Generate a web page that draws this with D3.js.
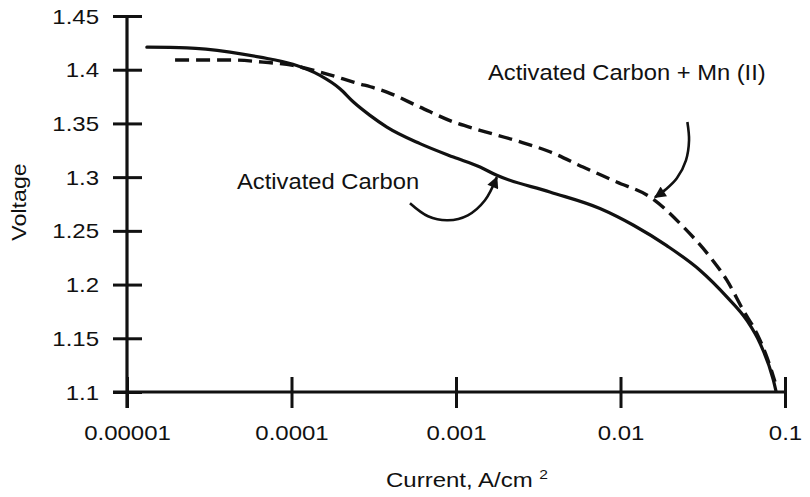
<!DOCTYPE html>
<html>
<head>
<meta charset="utf-8">
<script src="https://cdn.jsdelivr.net/npm/d3@7/dist/d3.min.js"></script>
<style>
  html, body { margin: 0; padding: 0; background: #fff; }
  svg text { font-family: "Liberation Sans", Arial, Helvetica, sans-serif; fill: #111; }
</style>
</head>
<body>
<svg id="chart" width="810" height="497"></svg>
<script>
// ---- data ----
const xTickValues = [0.00001, 0.0001, 0.001, 0.01, 0.1];
const xTickLabels = ["0.00001", "0.0001", "0.001", "0.01", "0.1"];
const yTickValues = [1.1, 1.15, 1.2, 1.25, 1.3, 1.35, 1.4, 1.45];
const yTickLabels = ["1.1", "1.15", "1.2", "1.25", "1.3", "1.35", "1.4", "1.45"];

const carbonCurrent = [1.32e-5, 2.31e-5, 4.23e-5, 6.43e-5, 1.02e-4, 1.49e-4, 1.97e-4, 2.38e-4, 3.0e-4, 3.8e-4, 6.04e-4, 9.64e-4, 1.4e-3, 1.77e-3, 3.72e-3, 7.5e-3, 1.2e-2, 1.91e-2, 3.04e-2, 4.43e-2, 5.85e-2, 7.05e-2, 8.49e-2, 8.81e-2];
const carbonVoltage = [1.421, 1.4204, 1.4164, 1.4117, 1.405, 1.3947, 1.3823, 1.3699, 1.3575, 1.3466, 1.3312, 1.3187, 1.3094, 1.3017, 1.2862, 1.2708, 1.2552, 1.2362, 1.2134, 1.1886, 1.1669, 1.1453, 1.1112, 1.1009];

const mnCurrent = [1.96e-5, 4.23e-5, 6.71e-5, 1.02e-4, 1.49e-4, 2.38e-4, 3.8e-4, 6.04e-4, 9.6e-4, 1.4e-3, 2.34e-3, 3.72e-3, 5.92e-3, 9.48e-3, 1.51e-2, 2.41e-2, 3.5e-2, 4.43e-2, 5.57e-2, 6.73e-2, 7.75e-2, 8.69e-2];
const mnVoltage = [1.409, 1.4091, 1.4071, 1.404, 1.3978, 1.3885, 1.3792, 1.3652, 1.3515, 1.3436, 1.3338, 1.3236, 1.3094, 1.2955, 1.2816, 1.2537, 1.2258, 1.2041, 1.1762, 1.1546, 1.1328, 1.1096];

// annotation arrows (in data units)
const arrowCarbonCurrent = [5.25e-4, 6.76e-4, 8.93e-4, 1.18e-3, 1.50e-3, 1.77e-3];
const arrowCarbonVoltage = [1.2757, 1.2636, 1.2599, 1.2645, 1.2785, 1.2999];
const arrowMnCurrent = [2.55e-2, 2.61e-2, 2.50e-2, 2.20e-2, 1.89e-2, 1.62e-2];
const arrowMnVoltage = [1.3513, 1.3343, 1.3157, 1.2989, 1.2887, 1.2813];

const labelCarbon = "Activated Carbon";
const labelMn = "Activated Carbon + Mn (II)";
const xTitle = "Current, A/cm";
const xTitleSup = "2";
const yTitle = "Voltage";

// ---- layout ----
const svg = d3.select("#chart");
const x = d3.scaleLog().domain([1e-5, 0.1]).range([127, 785]);
const y = d3.scaleLinear().domain([1.1, 1.45]).range([392, 16]);
const ink = "#111";

// arrow marker
svg.append("defs").append("marker")
  .attr("id", "ah").attr("viewBox", "0 0 10 10")
  .attr("refX", 9).attr("refY", 5)
  .attr("markerWidth", 5).attr("markerHeight", 4.5)
  .attr("markerUnits", "strokeWidth")
  .attr("orient", "auto")
  .append("path").attr("d", "M0,0 L10,5 L0,10 z").attr("fill", ink);

// x axis
const xAxis = d3.axisBottom(x).tickValues(xTickValues)
  .tickFormat((d, i) => xTickLabels[i]).tickSize(0);
const gx = svg.append("g").attr("transform", `translate(0,${y(1.1)})`).call(xAxis);
gx.select(".domain").remove();
gx.selectAll(".tick line").attr("y1", -15).attr("y2", 16)
  .attr("stroke", ink).attr("stroke-width", 3);
gx.selectAll(".tick text").attr("y", 48).attr("dy", 0)
  .attr("font-size", 20).attr("transform", "scale(1.2,1)").attr("fill", ink);

// y axis
const yAxis = d3.axisLeft(y).tickValues(yTickValues)
  .tickFormat((d, i) => yTickLabels[i]).tickSize(0);
const gy = svg.append("g").attr("transform", `translate(${x(1e-5)},0)`).call(yAxis);
gy.select(".domain").remove();
gy.selectAll(".tick line").attr("x1", -14).attr("x2", 15)
  .attr("stroke", ink).attr("stroke-width", 3);
gy.selectAll(".tick text").attr("x", -28 / 1.2).attr("dy", "0.35em")
  .attr("font-size", 20).attr("transform", "scale(1.2,1)").attr("fill", ink);

// axis lines
svg.append("line")
  .attr("x1", x.range()[0] - 14).attr("x2", x.range()[1] + 2)
  .attr("y1", y(1.1)).attr("y2", y(1.1))
  .attr("stroke", ink).attr("stroke-width", 3.2);
svg.append("line")
  .attr("x1", x(1e-5)).attr("x2", x(1e-5))
  .attr("y1", y.range()[1]).attr("y2", y.range()[0] + 16)
  .attr("stroke", ink).attr("stroke-width", 3.2);

// curves
const curveLine = d3.line().x(d => x(d[0])).y(d => y(d[1])).curve(d3.curveMonotoneX);
svg.append("path")
  .datum(carbonCurrent.map((c, i) => [c, carbonVoltage[i]]))
  .attr("d", curveLine).attr("fill", "none").attr("stroke", ink)
  .attr("stroke-width", 3.2).attr("stroke-linecap", "round");
svg.append("path")
  .datum(mnCurrent.map((c, i) => [c, mnVoltage[i]]))
  .attr("d", curveLine).attr("fill", "none").attr("stroke", ink)
  .attr("stroke-width", 3.4).attr("stroke-dasharray", "14,7");

// annotation arrows
const arrowLine = d3.line().x(d => x(d[0])).y(d => y(d[1])).curve(d3.curveCatmullRom.alpha(0.5));
[[arrowCarbonCurrent, arrowCarbonVoltage], [arrowMnCurrent, arrowMnVoltage]].forEach(([cs, vs]) => {
  svg.append("path")
    .datum(cs.map((c, i) => [c, vs[i]]))
    .attr("d", arrowLine).attr("fill", "none").attr("stroke", ink)
    .attr("stroke-width", 2.6).attr("marker-end", "url(#ah)");
});

// annotation labels
svg.append("text").attr("transform", "translate(488,80) scale(1.08,1)")
  .attr("font-size", 22).text(labelMn);
svg.append("text").attr("transform", "translate(237,188.5) scale(1.08,1)")
  .attr("font-size", 22).text(labelCarbon);

// axis titles
const xt = svg.append("text").attr("transform", "translate(386,487) scale(1.2,1)")
  .attr("font-size", 20);
xt.append("tspan").text(xTitle + " ");
xt.append("tspan").attr("font-size", 13).attr("dy", -8).text(xTitleSup);

svg.append("text").attr("transform", "translate(26,202) rotate(-90) scale(1.16,1)")
  .attr("text-anchor", "middle").attr("font-size", 20).text(yTitle);
</script>
</body>
</html>
